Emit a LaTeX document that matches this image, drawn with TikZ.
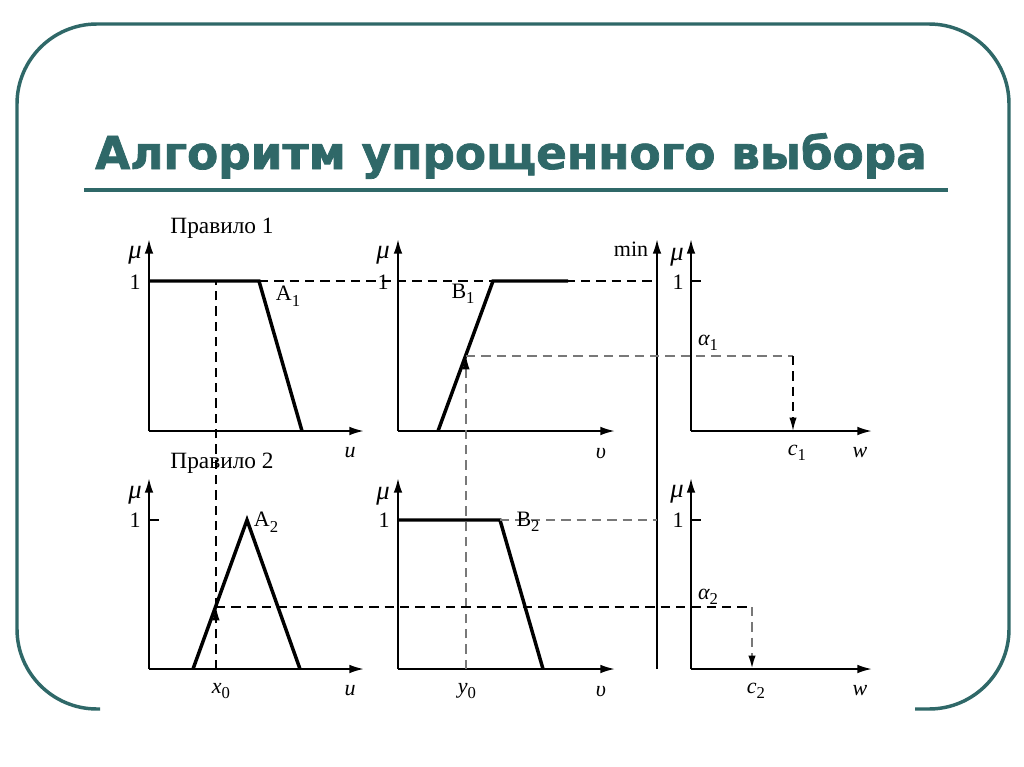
\documentclass[tikz,border=0pt]{standalone}
\usepackage{fontspec}
\setmainfont{Liberation Serif}
\newfontfamily\titlefont{DejaVu Sans}[FakeBold=1.6]
\usetikzlibrary{arrows.meta}
\definecolor{frameteal}{RGB}{47,104,104}
\definecolor{dgray}{RGB}{120,120,120}
\newcommand\lsub[1]{\raisebox{-0.55ex}{\fontsize{12.5}{12.5}\selectfont\upshape #1}}
\begin{document}
\begin{tikzpicture}[x=0.75pt,y=-0.75pt,
  axis/.style={line width=1.5pt,-{Latex[length=11pt,width=6.5pt]}},
  mf/.style={line width=2.6pt,line join=miter},
  dsh/.style={line width=1.1pt,dash pattern=on 7pt off 4.5pt},
  gdsh/.style={dsh,draw=dgray},
  dtip/.style={-{Latex[length=10pt,width=5.5pt,color=black]}},
  lbl/.style={font=\fontsize{16.5}{16.5}\selectfont,inner sep=0pt},
  mulbl/.style={font=\fontsize{20}{20}\selectfont\itshape,inner sep=0pt},
  rule/.style={font=\fontsize{17.5}{17.5}\selectfont,inner sep=0pt}]
\useasboundingbox (0,0) rectangle (1024,767);
\fill[white] (0,0) rectangle (1024,767);
% frame
\draw[frameteal,line width=2.6pt,rounded corners=60pt]
  (100,709) -| (17,24) -| (1009,709) -- (915,709);
% title
\node[anchor=base,inner sep=0pt,text=frameteal,font=\titlefont\bfseries\fontsize{34}{34}\selectfont] (title) at (511,169) {Алгоритм упрощенного выбора};
\coordinate (ulA) at (84,190);
\coordinate (ulB) at (948,190);
\draw[frameteal,line width=2.4pt] (ulA) -- (ulB);

% ---- coordinates
\coordinate (o1) at (149,431); \coordinate (y1) at (149,239); \coordinate (x1) at (364,431);
\coordinate (o2) at (398,431); \coordinate (y2) at (398,239); \coordinate (x2) at (615,431);
\coordinate (o3) at (691,431); \coordinate (y3) at (691,239); \coordinate (x3) at (872,431);
\coordinate (o4) at (149,669); \coordinate (y4) at (149,478); \coordinate (x4) at (364,669);
\coordinate (o5) at (398,669); \coordinate (y5) at (398,478); \coordinate (x5) at (615,669);
\coordinate (o6) at (691,669); \coordinate (y6) at (691,478); \coordinate (x6) at (872,669);
\coordinate (mb) at (657,669); \coordinate (mt) at (657,239);

% axes
\foreach \i in {1,...,6}{
  \draw[axis] (o\i) -- (y\i);
  \draw[axis] (o\i) -- (x\i);
}
\draw[axis] (mb) -- (mt);

% ticks at 1
\coordinate (t3a) at (691,281); \coordinate (t3b) at (701,281);
\coordinate (t6a) at (691,520); \coordinate (t6b) at (701,520);
\coordinate (t4a) at (149,520); \coordinate (t4b) at (159,520);
\draw[line width=1pt] (t3a) -- (t3b);
\draw[line width=1pt] (t6a) -- (t6b);
\draw[line width=1pt] (t4a) -- (t4b);

% membership functions
\coordinate (a1a) at (149,281); \coordinate (a1b) at (259,281); \coordinate (a1c) at (302,431);
\coordinate (b1a) at (438,431); \coordinate (b1b) at (493,281); \coordinate (b1c) at (568,281);
\coordinate (a2a) at (193,669); \coordinate (a2b) at (247,520); \coordinate (a2c) at (300,669);
\coordinate (b2a) at (398,520); \coordinate (b2b) at (500,520); \coordinate (b2c) at (543,669);
\draw[mf] (a1a) -- (a1b) -- (a1c);
\draw[mf] (b1a) -- (b1b) -- (b1c);
\draw[mf] (a2a) -- (a2b) -- (a2c);
\draw[mf] (b2a) -- (b2b) -- (b2c);

% dashed construction lines
\coordinate (x0b) at (216,669); \coordinate (x0m) at (216,607); \coordinate (x0t) at (216,281);
\coordinate (y0b) at (466,669); \coordinate (y0m) at (466,356);
\coordinate (m1) at (657,281); \coordinate (m2) at (657,520);
\coordinate (al1) at (793,356); \coordinate (c1) at (793,431);
\coordinate (al2) at (752,607); \coordinate (c2) at (752,669);
\draw[dsh] (x0m) -- (x0t);
\draw[dsh,dtip] (x0b) -- (x0m);
\draw[gdsh,dtip] (y0b) -- (y0m);
\draw[dsh] (a1b) -- (m1);
\draw[gdsh] (b2b) -- (m2);
\draw[gdsh] (y0m) -- (al1);
\draw[dsh,dtip] (al1) -- (c1);
\draw[dsh] (x0m) -- (al2);
\draw[gdsh,line width=1.6pt,dtip] (al2) -- (c2);

% labels
\node[rule] (r1) at (222,228) {Правило 1};
\node[rule] (r2) at (222,463) {Правило 2};
\node[mulbl] (mu1) at (135,255) {μ};
\node[mulbl] (mu2) at (383,255) {μ};
\node[mulbl] (mu3) at (677,257) {μ};
\node[mulbl] (mu4) at (135,495) {μ};
\node[mulbl] (mu5) at (383,496) {μ};
\node[mulbl] (mu6) at (677,494) {μ};
\node[lbl] (one1) at (135,282) {1};
\node[lbl] (one2) at (383,282) {1};
\node[lbl] (one3) at (678,282) {1};
\node[lbl] (one4) at (135,520) {1};
\node[lbl] (one5) at (384,520) {1};
\node[lbl] (one6) at (678,520) {1};
\node[lbl] (minl) at (631,249) {min};
\node[lbl] (A1) at (288,296) {A\lsub{1}};
\node[lbl] (B1) at (463,294) {B\lsub{1}};
\node[lbl] (A2) at (266,522) {A\lsub{2}};
\node[lbl] (B2) at (528,522) {B\lsub{2}};
\node[lbl] (alpha1) at (708,343) {\itshape α\lsub{1}};
\node[lbl] (alpha2) at (708,597) {\itshape α\lsub{2}};
\node[lbl] (u1) at (350,453) {\itshape u};
\node[lbl] (v1) at (601,453) {\itshape υ};
\node[lbl] (cc1) at (797,453) {\itshape c\lsub{1}};
\node[lbl] (w1) at (860,453) {\itshape w};
\node[lbl] (xx0) at (221,691) {\itshape x\lsub{0}};
\node[lbl] (u2) at (350,691) {\itshape u};
\node[lbl] (yy0) at (467,691) {\itshape y\lsub{0}};
\node[lbl] (v2) at (601,691) {\itshape υ};
\node[lbl] (cc2) at (756,691) {\itshape c\lsub{2}};
\node[lbl] (w2) at (860,691) {\itshape w};
\end{tikzpicture}
\end{document}
